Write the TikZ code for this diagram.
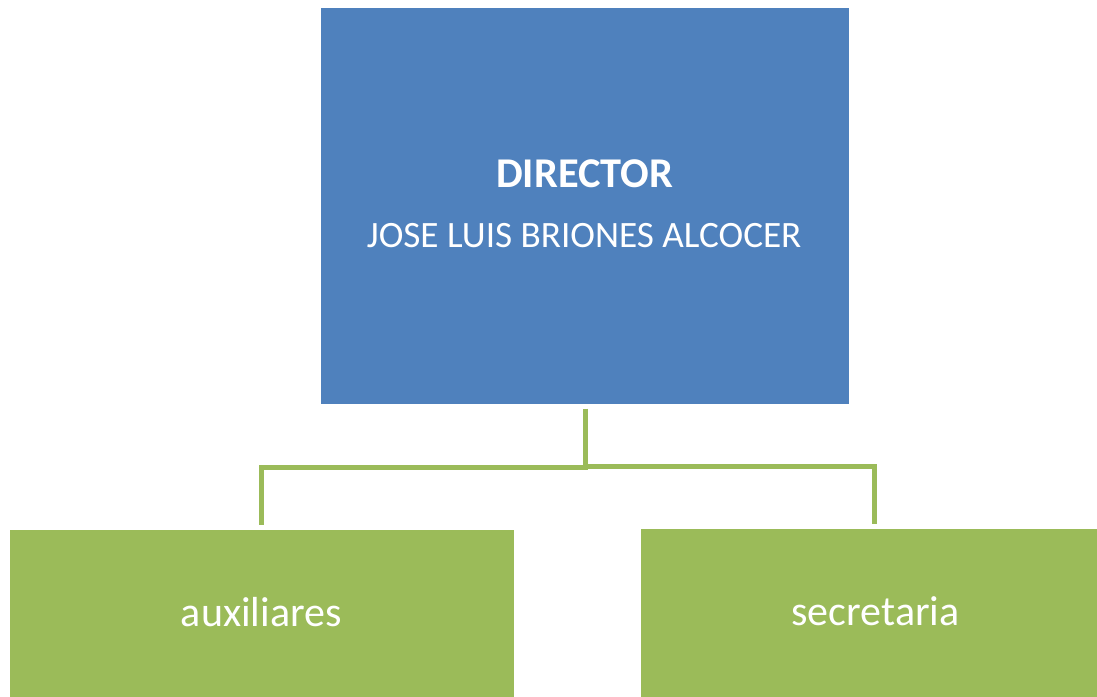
\documentclass[tikz,border=0pt]{standalone}
\usepackage{fontspec}
\setmainfont{Carlito}
\definecolor{dirblue}{HTML}{4F81BD}
\definecolor{staffgreen}{HTML}{9BBB59}
\tikzset{
  dirbox/.style={fill=dirblue, draw=none, inner sep=0pt, outer sep=0pt},
  staffbox/.style={fill=staffgreen, draw=none, inner sep=0pt, outer sep=0pt},
  boxtext/.style={text=white, inner sep=0pt, anchor=base},
  conn/.style={draw=staffgreen, line width=5pt, line cap=butt, line join=miter},
}
\begin{document}
\begin{tikzpicture}[x=1pt,y=-1pt]
\useasboundingbox (0,0) rectangle (1097,696);
% boxes
\node[dirbox, minimum width=528pt, minimum height=396pt] (dir) at (585,205.5) {};
\node[staffbox, minimum width=504.5pt, minimum height=168pt] (aux) at (261.75,614) {};
\node[staffbox, minimum width=464pt, minimum height=168pt] (sec) at (873,613) {};
% texts
\node[boxtext, font=\fontsize{42.4}{50}\selectfont\bfseries] (dtitle) at (584.7,187.3) {DIRECTOR};
\node[boxtext, font=\fontsize{37.2}{44}\selectfont] (dname) at (584.2,247.7) {JOSE LUIS BRIONES ALCOCER};
\node[boxtext, font=\fontsize{42}{50}\selectfont] (auxt) at (261.4,626) {auxiliares};
\node[boxtext, font=\fontsize{42}{50}\selectfont] (sect) at (875.5,625) {secretaria};
% connectors
\coordinate (top) at ([yshift=-5pt]dir.south);
\coordinate (aend) at ([yshift=5.5pt]aux.north);
\coordinate (send) at ([xshift=1.5pt,yshift=5pt]sec.north);
\draw[conn] (top) -- (top |- 0,467.5) -| (aend);
\draw[conn] (top |- 0,466) -| (send);
\end{tikzpicture}
\end{document}
